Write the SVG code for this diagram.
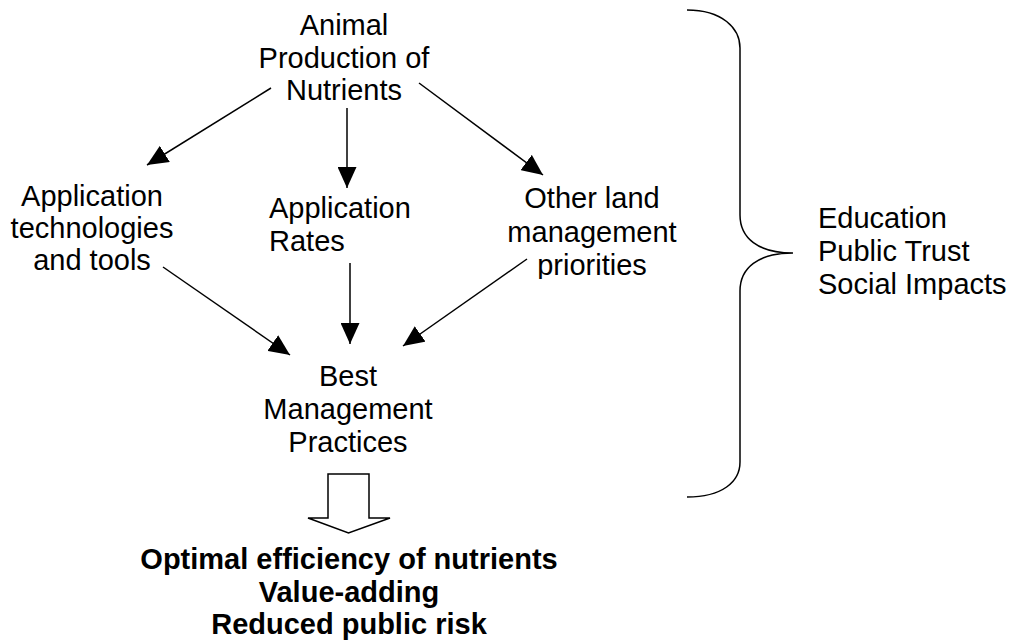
<svg xmlns="http://www.w3.org/2000/svg" width="1012" height="640" viewBox="0 0 1012 640">
  <style>
    text { font-family: "Liberation Sans", Arial, sans-serif; font-size: 29px; fill: #000; }
    .c { text-anchor: middle; }
    .b { font-weight: bold; }
    .ln { stroke: #000; stroke-width: 1.5; fill: none; }
  </style>
  <defs>
    <marker id="ah" viewBox="0 0 21 19" refX="21" refY="9.5" markerWidth="21" markerHeight="19" markerUnits="userSpaceOnUse" orient="auto">
      <path d="M0,0 L21,9.5 L0,19 z" fill="#000"/>
    </marker>
    <clipPath id="clipOther">
      <rect x="480" y="170" width="220" height="109"/>
    </clipPath>
  </defs>
  <rect width="1012" height="640" fill="#fff"/>

  <g id="animal-production">
    <text class="c" x="344" y="35">Animal</text>
    <text class="c" x="344" y="68">Production of</text>
    <text class="c" x="344" y="100">Nutrients</text>
  </g>

  <g id="application-technologies">
    <text class="c" x="92" y="206">Application</text>
    <text class="c" x="92" y="238">technologies</text>
    <text class="c" x="92" y="270">and tools</text>
  </g>

  <g id="application-rates">
    <text x="269" y="218">Application</text>
    <text x="269" y="251">Rates</text>
  </g>

  <g id="other-land" clip-path="url(#clipOther)">
    <text class="c" x="592" y="208">Other land</text>
    <text class="c" x="592" y="242">management</text>
    <text class="c" x="592" y="275">priorities</text>
  </g>

  <g id="best-management">
    <text class="c" x="348" y="386">Best</text>
    <text class="c" x="348" y="419">Management</text>
    <text class="c" x="348" y="452">Practices</text>
  </g>

  <g id="outcomes">
    <text class="c b" x="349" y="569">Optimal efficiency of nutrients</text>
    <text class="c b" x="349" y="602">Value-adding</text>
    <text class="c b" x="349" y="634">Reduced public risk</text>
  </g>

  <g id="social">
    <path class="ln" stroke-width="2" d="M687,10 C722,10 740,28 740,48 L740,215 C740,238 758,253 793,253 C758,253 740,268 740,291 L740,462 C740,482 722,497 687,497"/>
    <text x="818" y="228">Education</text>
    <text x="818" y="261">Public Trust</text>
    <text x="818" y="294">Social Impacts</text>
  </g>

  <g id="connectors">
    <line class="ln" x1="271" y1="88" x2="147" y2="165" marker-end="url(#ah)"/>
    <line class="ln" x1="347" y1="108" x2="347" y2="188" marker-end="url(#ah)"/>
    <line class="ln" x1="419" y1="83" x2="543" y2="175" marker-end="url(#ah)"/>
    <line class="ln" x1="163" y1="267" x2="290" y2="355" marker-end="url(#ah)"/>
    <line class="ln" x1="350" y1="263" x2="350" y2="344" marker-end="url(#ah)"/>
    <line class="ln" x1="527" y1="259" x2="403" y2="346" marker-end="url(#ah)"/>
    <path class="ln" d="M328,474 L369,474 L369,518 L390,518 L348.5,533 L308,518 L328,518 Z" fill="#fff"/>
  </g>
</svg>
